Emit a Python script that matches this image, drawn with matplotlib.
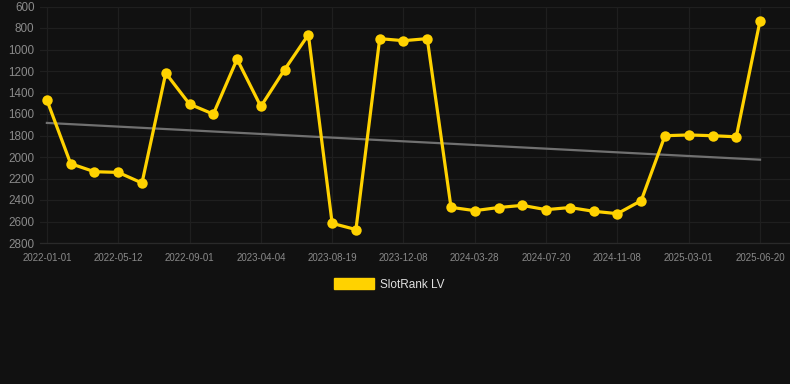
import matplotlib
matplotlib.use("Agg")
import matplotlib.pyplot as plt
from matplotlib.patches import Patch

plt.rcParams['font.family'] = ['Liberation Sans', 'DejaVu Sans']

# Category labels (one per data point; every 3rd is shown on the axis)
tick_labels = ["2022-01-01", "2022-05-12", "2022-09-01", "2023-04-04", "2023-08-19",
               "2023-12-08", "2024-03-28", "2024-07-20", "2024-11-08", "2025-03-01",
               "2025-06-20"]
rank_values = [1470, 2062, 2137, 2143, 2242, 1220, 1508, 1601, 1090, 1530,
               1187, 862, 2617, 2675, 899, 918, 899, 2468, 2499, 2470,
               2450, 2490, 2470, 2505, 2527, 2406, 1802, 1795, 1802, 1812, 732]
trend_values = [1683, 2025]
series_name = "SlotRank LV"

bg = "#111111"
yellow = "#FFD200"

fig = plt.figure(figsize=(7.9, 3.84), dpi=100, facecolor=bg)
ax = fig.add_axes([40/790, (384-243)/384, 750/790, (243-6.5)/384])
ax.set_facecolor(bg)

n = len(rank_values)
xs = list(range(n))
ax.plot([0, n-1], trend_values, color="#707070", lw=1.6, zorder=2)
ax.plot(xs, rank_values, color=yellow, lw=2.3, marker="o", ms=7.5,
        markeredgewidth=0, zorder=3)

ax.set_ylim(2800, 600)
ax.set_yticks(range(600, 2801, 200))
ax.set_xlim(-0.29, n - 1 + 1.26)
tick_pos = list(range(0, n, 3))
ax.set_xticks(tick_pos)
ax.set_xticklabels(tick_labels)

ax.grid(True, color="#1f1f1f", lw=0.9)
ax.set_axisbelow(True)
for s in ax.spines.values():
    s.set_visible(False)
ax.spines['bottom'].set_visible(True)
ax.spines['bottom'].set_color("#2a2a2a")
ax.spines['bottom'].set_linewidth(0.9)
ax.tick_params(axis='both', length=0, colors="#8a8a8a")
ax.tick_params(axis='y', labelsize=8.4, pad=4)
ax.tick_params(axis='x', labelsize=7, pad=7)

leg = fig.legend(handles=[Patch(facecolor=yellow, edgecolor=yellow, label=series_name)],
                 loc="center", bbox_to_anchor=(389.5/790, 1 - 284.5/384),
                 frameon=False, fontsize=8.5, handlelength=3.4, handleheight=1.0,
                 handletextpad=0.5, labelcolor="#e0e0e0")

fig.savefig("out.png", dpi=100, facecolor=bg)
